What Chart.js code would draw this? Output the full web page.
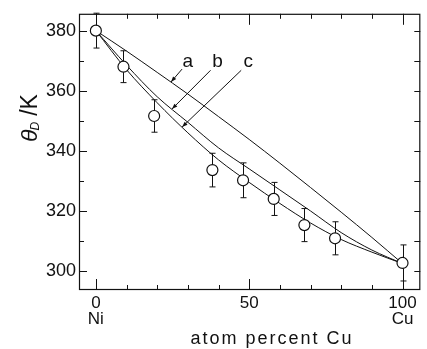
<!DOCTYPE html>
<html>
<head>
<meta charset="utf-8">
<script src="https://cdn.jsdelivr.net/npm/chart.js@4.4.1/dist/chart.umd.min.js"></script>
<style>
  html, body { margin: 0; padding: 0; background: #fff; }
  canvas { display: block; }
</style>
</head>
<body>
<canvas id="debye" width="427" height="349"></canvas>
<script>
// measured Debye temperatures of Ni-Cu alloys
const composition = [0, 9, 19, 38, 48, 58, 68, 78, 100];
const debyeTemp = [380, 368, 351.6, 333.6, 330.2, 324, 315.3, 310.9, 302.7];
const tempError = [5.8, 5.3, 5.4, 5.6, 5.8, 5.5, 5.5, 5.5, 6];

// calculated curves a, b, c
const curveX = [0, 10, 20, 30, 40, 50, 60, 70, 80, 90, 100];
const curveA = [380, 373.2, 366.1, 358.9, 351.4, 343.8, 335.9, 327.8, 319.6, 311.2, 302.5];
const curveB = [380, 368.5, 358, 349.5, 341, 334, 327, 320, 312.8, 307, 302.5];
const curveC = [380, 367, 356, 346, 337, 329.5, 322.5, 316, 310.5, 306.3, 302.5];

// axis ticks
const xTickLabels = [0, 50, 100];
const xMinorTicks = [0, 10, 20, 30, 40, 50, 60, 70, 80, 90, 100];
const yTickLabels = [300, 320, 340, 360, 380];
const yMinorTicks = [300, 310, 320, 330, 340, 350, 360, 370, 380];

// curve labels with leader lines: text position, leader start, arrow tip
const curveNotes = [
  { text: "a", at: [30.0, 369.8], from: [28.1, 367.2], to: [24.5, 362.9] },
  { text: "b", at: [39.7, 369.8], from: [37.4, 366.8], to: [24.8, 353.9] },
  { text: "c", at: [49.7, 369.5], from: [47.4, 366.8], to: [28.1, 347.9] },
];

const FONT = "'Liberation Sans', Arial, sans-serif";

const toXY = (xs, ys) => xs.map((x, i) => ({ x: x, y: ys[i] }));

function curveDataset(values) {
  return {
    data: toXY(curveX, values),
    showLine: true,
    borderColor: "#111",
    borderWidth: 1,
    pointRadius: 0,
    cubicInterpolationMode: "monotone",
    fill: false,
  };
}

// frame, inward ticks, error bars, curve labels and axis titles
const decorations = {
  id: "decorations",
  beforeDatasetsDraw(chart) {
    const { ctx, scales: { x, y } } = chart;
    ctx.save();
    ctx.strokeStyle = "#111";
    ctx.lineWidth = 1;
    composition.forEach((c, i) => {
      const px = Math.round(x.getPixelForValue(c)) + 0.5;
      const top = y.getPixelForValue(debyeTemp[i] + tempError[i]);
      const bot = y.getPixelForValue(debyeTemp[i] - tempError[i]);
      ctx.beginPath();
      ctx.moveTo(px, top); ctx.lineTo(px, bot);
      ctx.moveTo(px - 3, top); ctx.lineTo(px + 3, top);
      ctx.moveTo(px - 3, bot); ctx.lineTo(px + 3, bot);
      ctx.stroke();
    });
    ctx.restore();
  },
  afterDraw(chart) {
    const { ctx, chartArea: a, scales: { x, y } } = chart;
    ctx.save();
    ctx.strokeStyle = "#111";
    ctx.fillStyle = "#111";
    ctx.lineWidth = 1.2;
    ctx.strokeRect(a.left + 0.5, a.top + 0.5, a.right - a.left - 1, a.bottom - a.top - 1);

    ctx.lineWidth = 1;
    ctx.beginPath();
    xMinorTicks.forEach(v => {
      const px = Math.round(x.getPixelForValue(v)) + 0.5;
      const len = v % 50 === 0 ? 11 : 5;
      ctx.moveTo(px, a.bottom); ctx.lineTo(px, a.bottom - len);
      ctx.moveTo(px, a.top); ctx.lineTo(px, a.top + len);
    });
    yMinorTicks.forEach(v => {
      const py = Math.round(y.getPixelForValue(v)) + 0.5;
      const len = v % 20 === 0 ? 8 : 5;
      ctx.moveTo(a.left, py); ctx.lineTo(a.left + len, py);
      ctx.moveTo(a.right, py); ctx.lineTo(a.right - 6, py);
    });
    ctx.stroke();

    // curve labels and leaders
    ctx.font = "19px " + FONT;
    ctx.textAlign = "center";
    ctx.textBaseline = "middle";
    curveNotes.forEach(n => {
      ctx.fillText(n.text, x.getPixelForValue(n.at[0]), y.getPixelForValue(n.at[1]));
      const x0 = x.getPixelForValue(n.from[0]), y0 = y.getPixelForValue(n.from[1]);
      const x1 = x.getPixelForValue(n.to[0]), y1 = y.getPixelForValue(n.to[1]);
      ctx.beginPath();
      ctx.moveTo(x0, y0); ctx.lineTo(x1, y1);
      ctx.stroke();
      const ang = Math.atan2(y1 - y0, x1 - x0);
      ctx.beginPath();
      ctx.moveTo(x1, y1);
      ctx.lineTo(x1 - 6 * Math.cos(ang - 0.35), y1 - 6 * Math.sin(ang - 0.35));
      ctx.lineTo(x1 - 6 * Math.cos(ang + 0.35), y1 - 6 * Math.sin(ang + 0.35));
      ctx.closePath();
      ctx.fill();
    });

    // x axis title
    ctx.font = "18px " + FONT;
    ctx.letterSpacing = "2px";
    ctx.textBaseline = "alphabetic";
    ctx.fillText("atom percent Cu", 272, 344);
    ctx.letterSpacing = "0px";

    // y axis title: theta_D / K, rotated
    ctx.translate(37, 142);
    ctx.rotate(-Math.PI / 2);
    ctx.textAlign = "left";
    let cx = 0;
    ctx.font = "italic 23px " + FONT;
    ctx.fillText("θ", cx, 0);
    cx += ctx.measureText("θ").width;
    ctx.font = "italic 12px " + FONT;
    ctx.fillText("D", cx - 1, 2);
    cx += ctx.measureText("D").width + 5;
    ctx.font = "23px " + FONT;
    ctx.fillText("/K", cx, 0);
    ctx.restore();
  },
};

new Chart(document.getElementById("debye"), {
  type: "scatter",
  data: {
    datasets: [
      {
        data: toXY(composition, debyeTemp),
        pointRadius: 5.5,
        pointBackgroundColor: "#fff",
        pointBorderColor: "#111",
        pointBorderWidth: 1.2,
        showLine: false,
      },
      curveDataset(curveA),
      curveDataset(curveB),
      curveDataset(curveC),
    ],
  },
  options: {
    responsive: false,
    animation: false,
    layout: { padding: { top: 11, right: 3, left: 0, bottom: 0 } },
    plugins: { legend: { display: false }, tooltip: { enabled: false } },
    scales: {
      x: {
        type: "linear",
        min: -5.5,
        max: 105.8,
        grid: { display: false, drawTicks: false },
        border: { display: false },
        afterBuildTicks: s => { s.ticks = xTickLabels.map(v => ({ value: v })); },
        afterFit: s => { s.height = 59; },
        ticks: {
          color: "#111",
          padding: 6,
          maxRotation: 0,
          font: { family: FONT, size: 17, lineHeight: 0.9 },
          callback: v => (v === 0 ? ["0", "Ni"] : v === 100 ? ["100", "Cu"] : String(v)),
        },
      },
      y: {
        type: "linear",
        min: 293.7,
        max: 385.6,
        grid: { display: false, drawTicks: false },
        border: { display: false },
        afterBuildTicks: s => { s.ticks = yTickLabels.map(v => ({ value: v })); },
        afterFit: s => { s.width = 79; },
        ticks: {
          color: "#111",
          padding: 3,
          font: { family: FONT, size: 18 },
        },
      },
    },
  },
  plugins: [decorations],
});
</script>
</body>
</html>
